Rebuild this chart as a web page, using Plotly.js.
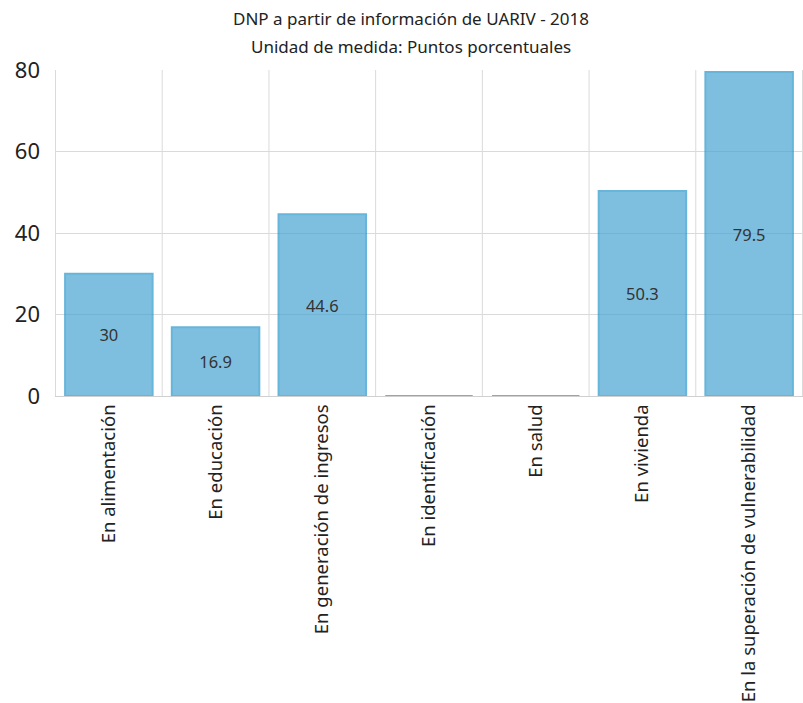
<!DOCTYPE html>
<html>
<head>
<meta charset="utf-8">
<script src="https://cdn.plot.ly/plotly-3.0.1.min.js"></script>
<style>html,body{margin:0;padding:0;background:#fff;}#chart{width:803px;height:703px;}</style>
</head>
<body>
<div id="chart"></div>
<script>
var categories = ["En alimentación", "En educación", "En generación de ingresos", "En identificación", "En salud", "En vivienda", "En la superación de vulnerabilidad"];
var values = [30, 16.9, 44.6, 0, 0, 50.3, 79.5];
var valueLabels = ["30", "16.9", "44.6", "", "", "50.3", "79.5"];
var titleLines = ["DNP a partir de información de UARIV - 2018", "Unidad de medida: Puntos porcentuales"];
var yTicks = [0, 20, 40, 60, 80];

var trace = {
  type: "bar",
  x: categories,
  y: values,
  text: valueLabels,
  textposition: "inside",
  insidetextanchor: "middle",
  textangle: 0,
  textfont: {family: "Noto Sans, Open Sans, sans-serif", size: 16.5, color: "#333333"},
  hoverinfo: "x+y",
  marker: {color: "rgb(72,165,211)", opacity: 0.7, line: {color: "rgb(40,150,205)", width: 2}}
};

var layout = {
  width: 803,
  height: 703,
  margin: {l: 55, r: 0, t: 70, b: 307, pad: 0},
  paper_bgcolor: "#ffffff",
  plot_bgcolor: "#ffffff",
  bargap: 0.18,
  showlegend: false,
  font: {family: "Noto Sans, Open Sans, sans-serif", color: "#222222"},
  xaxis: {
    type: "category",
    tickangle: -90,
    tickfont: {size: 18.5, color: "#222222"},
    showgrid: false,
    showline: true,
    linecolor: "#d0d0d0",
    linewidth: 1,
    ticks: "",
    automargin: false
  },
  yaxis: {
    range: [0, 80],
    tickvals: yTicks,
    ticktext: yTicks.map(String),
    tickfont: {size: 22, color: "#222222"},
    showgrid: true,
    gridcolor: "#dadada",
    gridwidth: 1,
    zeroline: false,
    ticks: "",
    ticklabelstandoff: 14,
    automargin: false,
    fixedrange: true
  },
  shapes: categories.slice(0).concat([""]).map(function (c, i) {
    return {type: "line", xref: "x", yref: "paper", x0: i - 0.5, x1: i - 0.5, y0: 0, y1: 1,
            line: {color: "#dadada", width: 1}, layer: "below"};
  }),
  annotations: [
    {text: titleLines[0], xref: "paper", yref: "paper", x: 0.476, y: 1.1595, xanchor: "center", yanchor: "middle", showarrow: false, font: {size: 17, color: "#222222"}},
    {text: titleLines[1], xref: "paper", yref: "paper", x: 0.476, y: 1.0736, xanchor: "center", yanchor: "middle", showarrow: false, font: {size: 17, color: "#222222"}}
  ]
};

Plotly.newPlot("chart", [trace], layout, {displayModeBar: false, staticPlot: true});
</script>
</body>
</html>
